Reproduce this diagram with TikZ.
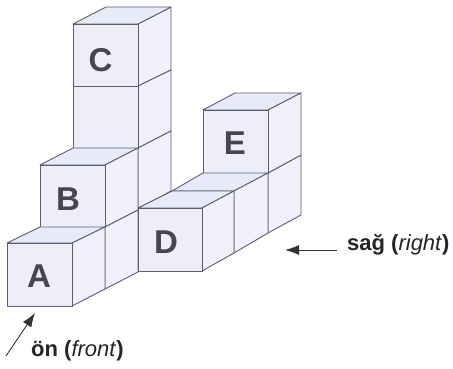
\documentclass[tikz,border=0pt]{standalone}
\usepackage{fontspec}
\setmainfont{Liberation Sans}
\definecolor{edgec}{HTML}{5C5E70}
\definecolor{frontc}{HTML}{EDEEFA}
\definecolor{sidec}{HTML}{F0F1FC}
\definecolor{topc}{HTML}{E8EBF7}
\definecolor{letterc}{HTML}{45464F}
\tikzset{
  facefront/.style={fill=frontc,draw=edgec,line width=0.9pt,line join=round},
  faceside/.style={fill=sidec,draw=edgec,line width=0.9pt,line join=round},
  facetop/.style={fill=topc,draw=edgec,line width=0.9pt,line join=round},
  letter/.style={font=\fontsize{33}{33}\selectfont\bfseries,text=letterc,inner sep=0pt},
  caption/.style={font=\fontsize{22}{24}\selectfont\bfseries,text=black!85,inner sep=0pt,anchor=west},
  pointer/.style={draw=black!80,line width=0.9pt,-{Latex[length=14pt,width=10pt]}}
}
\usetikzlibrary{arrows.meta}
\begin{document}
\begin{tikzpicture}[x=1pt,y=-1pt]
\useasboundingbox (0,0) rectangle (453,369);
\fill[white] (0,0) rectangle (453,369);
% column C: side faces
\draw[faceside] (138,24)--(171,7)--(171,70)--(138,86)--cycle;
\draw[faceside] (138,86)--(171,70)--(171,131)--(138,148)--cycle;
\draw[faceside] (138,148)--(171,131)--(171,191)--(138,210)--cycle;
% column C: top and front
\draw[facetop] (73,24)--(106,7)--(171,7)--(138,24)--cycle;
\draw[facefront] (73,24) rectangle (138,86);
\draw[facefront] (73,86) rectangle (138,148);
% B
\draw[facetop] (40,165)--(73,148)--(138,148)--(105,165)--cycle;
\draw[faceside] (105,165)--(138,148)--(138,210)--(105,227)--cycle;
\draw[facefront] (40,165) rectangle (105,227);
% side face between A and D
\draw[faceside] (105,227)--(138,210)--(138,272)--(105,289)--cycle;
% A
\draw[facetop] (7,243)--(40,227)--(105,227)--(72,243)--cycle;
\draw[faceside] (72,243)--(105,227)--(105,289)--(72,306)--cycle;
\draw[facefront] (7,243) rectangle (72,306);
% E lower cube side
\draw[faceside] (268,173)--(301,155)--(301,215)--(268,233)--cycle;
% E
\draw[facetop] (203,110)--(235,93)--(301,93)--(268,110)--cycle;
\draw[faceside] (268,110)--(301,93)--(301,155)--(268,173)--cycle;
\draw[facefront] (203,110) rectangle (268,173);
% cube behind D
\draw[facetop] (172,191)--(203,173)--(268,173)--(234,191)--cycle;
\draw[faceside] (234,191)--(268,173)--(268,233)--(234,253)--cycle;
% D
\draw[facetop] (138,208)--(172,191)--(234,191)--(202,208)--cycle;
\draw[faceside] (202,208)--(234,191)--(234,253)--(202,271)--cycle;
\draw[facefront] (138,208) rectangle (202,271);
% letters
\node[letter] (c) at (100.5,60) {C};
\node[letter] (b) at (68,199) {B};
\node[letter] (a) at (39,276) {A};
\node[letter] (d) at (166,242) {D};
\node[letter] (e) at (235,143) {E};
% captions and pointers
\node[caption] (on) at (31,351) {ön (\textmd{\textit{front}})};
\node[caption] (sag) at (347,245) {sağ (\textmd{\textit{right}})};
\coordinate (ontail) at (6,356);
\coordinate (ontip) at (35,313);
\coordinate (sagtail) at (337,250);
\coordinate (sagtip) at (285,250);
\draw[pointer] (ontail)--(ontip);
\draw[pointer] (sagtail)--(sagtip);
\end{tikzpicture}
\end{document}
